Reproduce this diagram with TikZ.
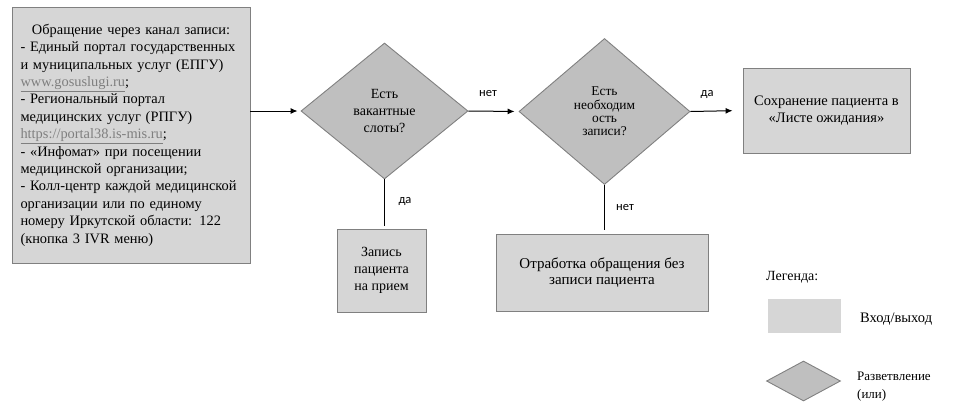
\documentclass[tikz,border=0pt]{standalone}
\usepackage{fontspec}
\setmainfont{Liberation Serif}
\newfontfamily\labfont{Carlito}
\usetikzlibrary{shapes.geometric,arrows.meta}
\definecolor{boxfill}{HTML}{D6D6D6}
\definecolor{dfill}{HTML}{BFBFBF}
\definecolor{edgec}{HTML}{808080}
\definecolor{linkc}{HTML}{7F7F7F}
\newcommand{\glink}[1]{{\color{linkc}\underline{#1}}}
\begin{document}
\begin{tikzpicture}[x=1pt,y=-1pt,
 procbox/.style={draw=edgec,fill=boxfill,line width=0.9pt,inner sep=2pt},
 decbox/.style={diamond,draw=edgec,fill=dfill,line width=0.9pt,align=center,inner sep=0pt},
 arr/.style={-{Latex[length=7pt,width=6pt]},line width=1pt},
 vline/.style={line width=1.8pt},
 lab/.style={font=\labfont\fontsize{12.5}{14}\selectfont,inner sep=0pt},
 legtext/.style={font=\fontsize{13}{17}\selectfont,inner sep=0pt,anchor=west,align=left}]
\useasboundingbox (0,0) rectangle (953,407);

\node[procbox,minimum width=238pt,minimum height=256pt,text width=221pt,
  font=\fontsize{14.4}{17.4}\selectfont] (src) at (131,135) {%
{\centering Обращение через канал записи:\par}
\raggedright
- Единый портал государственных\\
и муниципальных услуг (ЕПГУ)\\
\glink{www.gosuslugi.ru};\\
- Региональный портал\\
медицинских услуг (РПГУ)\\
\glink{https://portal38.is-mis.ru};\\
- «Инфомат» при посещении\\
медицинской организации;\\
- Колл-центр каждой медицинской\\
организации или по единому\\
номеру Иркутской области: 122\\
(кнопка 3 IVR меню)\par};

\node[decbox,minimum width=167pt,minimum height=136pt,
  font=\fontsize{14}{17}\selectfont] (d1) at (384.5,111) {Есть\\вакантные\\слоты?};
\node[decbox,minimum width=171pt,minimum height=146pt,
  font=\fontsize{13.4}{13.3}\selectfont] (d2) at (604.5,111.5) {Есть\\необходим\\ость\\записи?};

\node[procbox,minimum width=89pt,minimum height=83pt,align=center,
  font=\fontsize{14}{17}\selectfont] (zap) at (381.5,270.5) {Запись\\пациента\\на прием};
\node[procbox,minimum width=212pt,minimum height=77pt,align=center,
  font=\fontsize{15}{15.5}\selectfont] (otr) at (602,272.5) {Отработка обращения без\\записи пациента};
\node[procbox,minimum width=167pt,minimum height=85pt,align=center,
  font=\fontsize{14.5}{17}\selectfont] (save) at (826.5,110.5) {Сохранение пациента в\\«Листе ожидания»};

\draw[arr,shorten >=3pt] (src.east |- d1.west) -- (d1.west);
\draw[arr,shorten >=4pt] (d1.east) -- (d2.west);
\draw[arr,shorten >=10pt] (d2.east) -- (save.west);
\draw[vline,shorten >=2.5pt] (d1.south) -- (d1.south |- zap.north);
\draw[vline,shorten >=4pt] (d2.south) -- (d2.south |- otr.north);

\node[lab] (l1) at (488,94) {нет};
\node[lab] (l2) at (405,201) {да};
\node[lab] (l3) at (707,94) {да};
\node[lab] (l4) at (625,208) {нет};

\node[legtext,font=\fontsize{14}{17}\selectfont] (legt) at (766,277) {Легенда:};
\node[fill=boxfill,minimum width=73pt,minimum height=34pt,inner sep=0pt] (legbox) at (804.5,316) {};
\node[legtext,font=\fontsize{14.5}{17}\selectfont] (legbt) at (860,319) {Вход/выход};
\node[diamond,draw=edgec,fill=dfill,line width=0.9pt,minimum width=74pt,minimum height=40pt,inner sep=0pt] (legd) at (803.5,381) {};
\node[legtext,font=\fontsize{13}{18}\selectfont] (legdt) at (857,387) {Разветвление\\(или)};
\end{tikzpicture}
\end{document}
